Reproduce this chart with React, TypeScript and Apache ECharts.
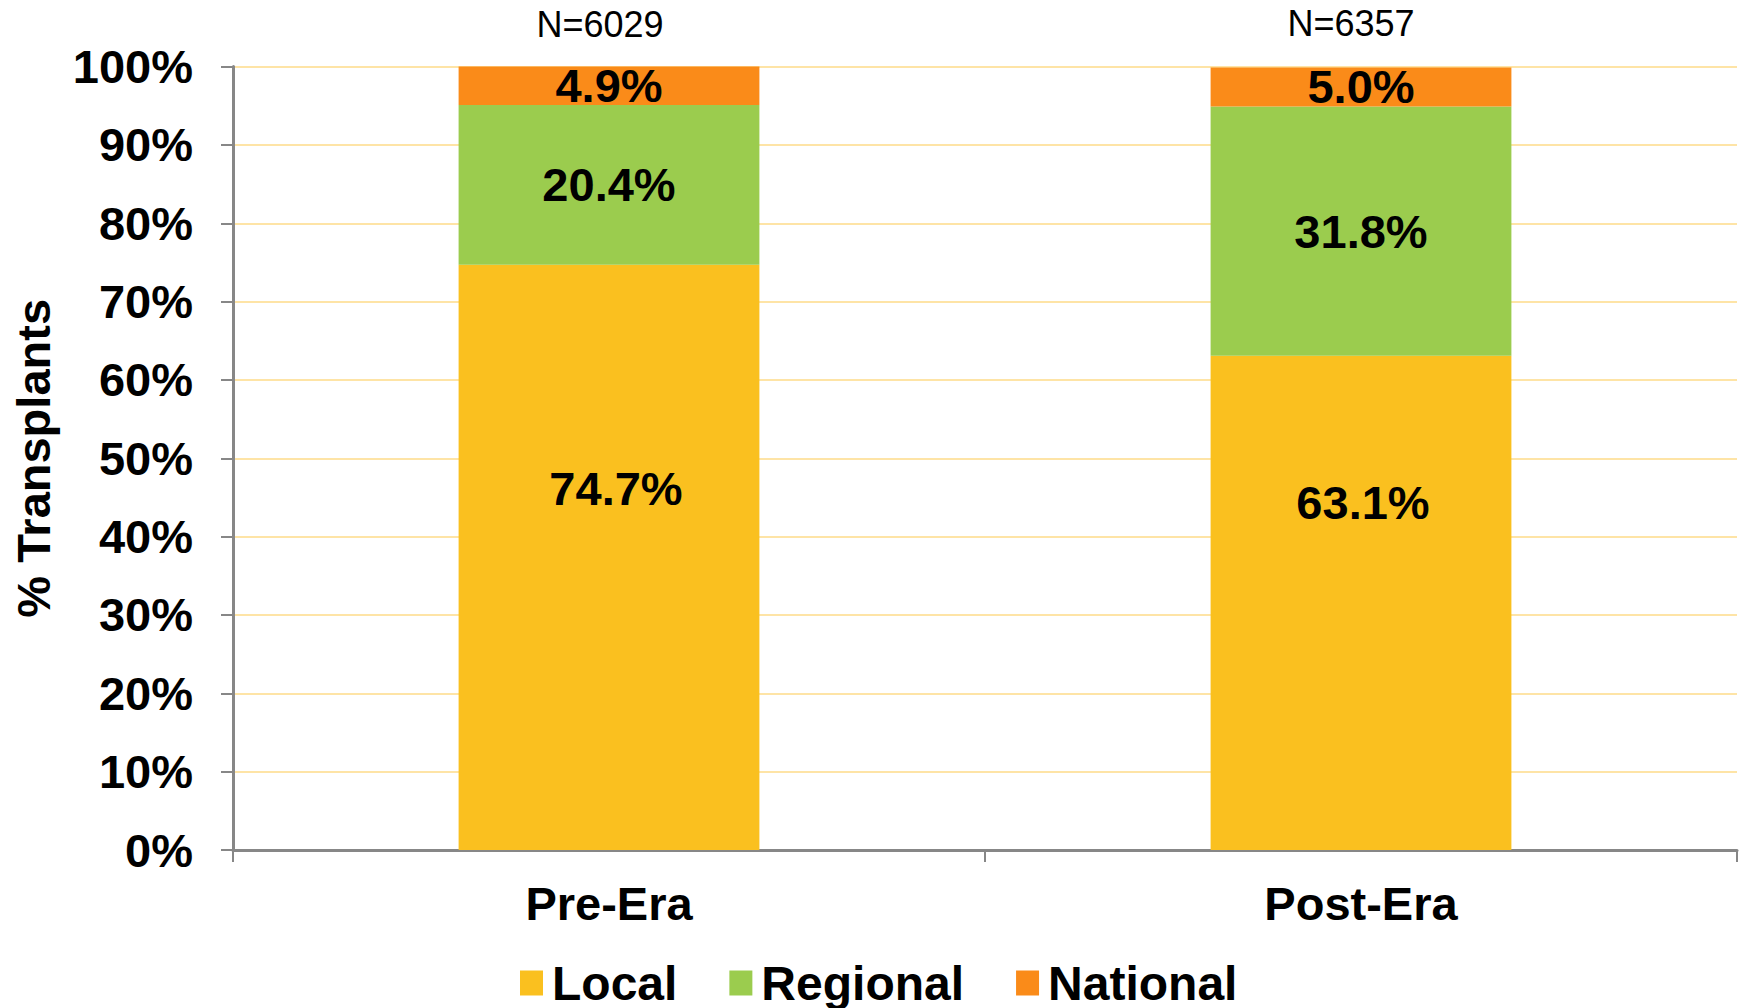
import React, { useEffect, useRef } from "react";
import * as echarts from "echarts";

const categories = ["Pre-Era", "Post-Era"];
const nLabels = ["N=6029", "N=6357"];
const localValues = [74.7, 63.1];
const regionalValues = [20.4, 31.8];
const nationalValues = [4.9, 5.0];
const yTicks = [0, 10, 20, 30, 40, 50, 60, 70, 80, 90, 100];

const FONT = "'Liberation Sans', Arial, Helvetica, sans-serif";
const localLabelOffsets = [[7, -69], [2, -100]];
const nLabelOffsets = [[-9, 0], [-10, -2]];

export default function App() {
  const ref = useRef<HTMLDivElement>(null);
  useEffect(() => {
    if (!ref.current) return;
    const chart = echarts.init(ref.current, null, { renderer: "svg" });
    const labelStyle = {
      show: true,
      fontFamily: FONT,
      fontWeight: "bold",
      fontSize: 47,
      color: "#000",
      formatter: (p: any) => `${Number(p.value).toFixed(1)}%`,
    };
    chart.setOption({
      animation: false,
      backgroundColor: "#fff",
      grid: { left: 233, right: 3, top: 66.6, bottom: 158, containLabel: false },
      legend: {
        top: 954,
        left: 515,
        data: ["Local", "Regional", "National"],
        itemWidth: 23,
        itemHeight: 25,
        itemGap: 52,
        icon: "rect",
        textStyle: { fontFamily: FONT, fontWeight: "bold", fontSize: 48, color: "#000", padding: [0, 0, 0, 4] },
      },
      xAxis: {
        type: "category",
        data: categories,
        axisLine: { lineStyle: { color: "#878787", width: 3 } },
        axisTick: { show: true, length: 12, lineStyle: { color: "#878787", width: 2 } },
        axisLabel: { fontFamily: FONT, fontWeight: "bold", fontSize: 47, color: "#000", margin: 30 },
      },
      yAxis: {
        type: "value",
        min: 0,
        max: 100,
        interval: 10,
        name: "% Transplants",
        nameLocation: "middle",
        nameGap: 176,
        nameRotate: 90,
        nameTextStyle: { fontFamily: FONT, fontWeight: "bold", fontSize: 47, color: "#000" },
        axisLine: { show: true, lineStyle: { color: "#878787", width: 3 } },
        axisTick: { show: true, length: 12, lineStyle: { color: "#878787", width: 2 } },
        axisLabel: {
          fontFamily: FONT,
          fontWeight: "bold",
          fontSize: 47,
          color: "#000",
          margin: 40,
          formatter: (v: number) => (yTicks.includes(v) ? `${v}%` : ""),
        },
        splitLine: { show: true, lineStyle: { color: "#FEE4A6", width: 2 } },
      },
      series: [
        {
          name: "Local",
          type: "bar",
          stack: "total",
          barWidth: "40%",
          itemStyle: { color: "#FAC01F" },
          data: localValues.map((v, i) => ({
            value: v,
            label: { ...labelStyle, position: "inside", offset: localLabelOffsets[i] },
          })),
        },
        {
          name: "Regional",
          type: "bar",
          stack: "total",
          itemStyle: { color: "#9BCC4E" },
          label: { ...labelStyle, position: "inside" },
          data: regionalValues,
        },
        {
          name: "National",
          type: "bar",
          stack: "total",
          itemStyle: { color: "#FA8B19" },
          label: { ...labelStyle, position: "inside" },
          data: nationalValues,
        },
        {
          name: "N",
          type: "bar",
          stack: "total",
          itemStyle: { color: "transparent" },
          data: nLabels.map((t, i) => ({
            value: 0,
            label: {
              show: true,
              position: "top",
              distance: 24,
              offset: nLabelOffsets[i],
              fontFamily: FONT,
              fontSize: 36,
              color: "#000",
              formatter: () => t,
            },
          })),
        },
      ],
    });
    return () => chart.dispose();
  }, []);
  return (
    <div
      ref={ref}
      style={{ position: "fixed", left: 0, top: 0, width: 1740, height: 1008, background: "#fff" }}
    />
  );
}
